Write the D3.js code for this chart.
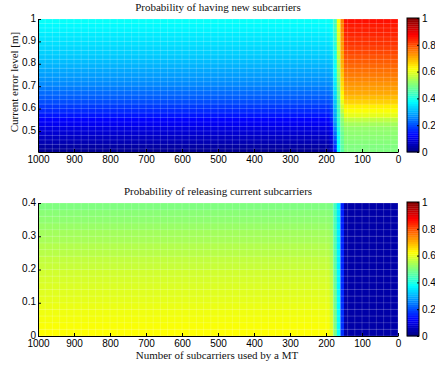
<!DOCTYPE html>
<html>
<head>
<meta charset="utf-8">
<script src="https://cdnjs.cloudflare.com/ajax/libs/d3/7.8.5/d3.min.js"></script>
<style>
    body { margin: 0; background: #fff; }
    .tick text { font-family: "Liberation Sans", Arial, sans-serif; font-size: 10px; fill: #000; }
    .lbl { font-family: "Liberation Serif", "Times New Roman", serif; font-size: 11px; fill: #111; }
</style>
</head>
<body>
<div id="chart"></div>
<script>
"use strict";

// column boundaries (number of subcarriers), shared by both panels
var xEdges = [1000, 190, 180, 170, 160, 150, 0];
var xTicks = [1000, 900, 800, 700, 600, 500, 400, 300, 200, 100, 0];
var topYTicks = [0.5, 0.6, 0.7, 0.8, 0.9, 1];
var bottomYTicks = [0, 0.1, 0.2, 0.3, 0.4];
var colorbarTicks = [0, 0.2, 0.4, 0.6, 0.8, 1];

// top panel: rows of 0.02 from 0.40 to 1.00, one array per column band
var topRowEdges = d3.range(0.40, 1.0001, 0.02);
var topLeft  = [0.02, 0.035, 0.05, 0.065, 0.08, 0.095, 0.11, 0.125, 0.145, 0.165, 0.18, 0.20, 0.215, 0.23, 0.245, 0.26, 0.27, 0.28, 0.29, 0.30, 0.31, 0.32, 0.33, 0.335, 0.345, 0.35, 0.355, 0.365, 0.37, 0.38];
var topBand1 = [0.05, 0.065, 0.08, 0.095, 0.11, 0.125, 0.14, 0.155, 0.17, 0.185, 0.20, 0.215, 0.23, 0.245, 0.26, 0.27, 0.28, 0.29, 0.30, 0.31, 0.32, 0.33, 0.34, 0.345, 0.355, 0.36, 0.365, 0.375, 0.38, 0.39];
var topBand2 = [0.15, 0.17, 0.19, 0.21, 0.23, 0.25, 0.265, 0.28, 0.29, 0.30, 0.31, 0.32, 0.33, 0.34, 0.35, 0.355, 0.36, 0.37, 0.375, 0.38, 0.385, 0.39, 0.395, 0.40, 0.41, 0.415, 0.42, 0.43, 0.435, 0.44];
var topBand3 = [0.37, 0.375, 0.38, 0.385, 0.39, 0.40, 0.41, 0.42, 0.43, 0.44, 0.45, 0.46, 0.47, 0.48, 0.49, 0.50, 0.51, 0.52, 0.53, 0.54, 0.55, 0.56, 0.57, 0.575, 0.58, 0.59, 0.595, 0.60, 0.61, 0.62];
var topBand4 = [0.46, 0.465, 0.47, 0.475, 0.48, 0.49, 0.50, 0.51, 0.53, 0.56, 0.58, 0.60, 0.62, 0.635, 0.65, 0.66, 0.67, 0.68, 0.69, 0.70, 0.705, 0.71, 0.715, 0.72, 0.725, 0.73, 0.735, 0.74, 0.745, 0.75];
var topRight = [0.50, 0.50, 0.505, 0.51, 0.515, 0.52, 0.535, 0.56, 0.60, 0.62, 0.64, 0.67, 0.69, 0.71, 0.72, 0.73, 0.745, 0.755, 0.765, 0.775, 0.785, 0.795, 0.805, 0.815, 0.825, 0.83, 0.84, 0.845, 0.85, 0.86];

// bottom panel: rows of 0.02 from 0 to 0.40
var bottomRowEdges = d3.range(0, 0.4001, 0.02);
var bottomLeft  = [0.625, 0.62, 0.615, 0.61, 0.605, 0.60, 0.595, 0.59, 0.585, 0.58, 0.57, 0.565, 0.555, 0.55, 0.54, 0.535, 0.525, 0.515, 0.51, 0.50];
var bottomBand1 = [0.60, 0.595, 0.59, 0.585, 0.58, 0.575, 0.57, 0.565, 0.56, 0.555, 0.55, 0.545, 0.54, 0.535, 0.53, 0.525, 0.515, 0.51, 0.505, 0.495];
var bottomBand2 = [0.50, 0.50, 0.495, 0.49, 0.49, 0.485, 0.48, 0.48, 0.475, 0.47, 0.47, 0.465, 0.46, 0.46, 0.455, 0.45, 0.45, 0.445, 0.44, 0.44];
var bottomBand3 = [0.38, 0.38, 0.38, 0.375, 0.375, 0.375, 0.37, 0.37, 0.37, 0.37, 0.365, 0.365, 0.365, 0.36, 0.36, 0.36, 0.36, 0.355, 0.355, 0.355];
var bottomBand4 = [0.17, 0.17, 0.17, 0.17, 0.17, 0.165, 0.165, 0.165, 0.165, 0.165, 0.16, 0.16, 0.16, 0.16, 0.16, 0.16, 0.155, 0.155, 0.155, 0.155];
var bottomRight = [0.04, 0.04, 0.04, 0.04, 0.04, 0.04, 0.04, 0.04, 0.04, 0.04, 0.04, 0.04, 0.04, 0.04, 0.04, 0.04, 0.04, 0.04, 0.04, 0.04];

// matlab "jet"
function jet(v) {
    var c = function(t) { return Math.max(0, Math.min(1, t)); };
    var r = c(1.5 - Math.abs(4 * v - 3)),
        g = c(1.5 - Math.abs(4 * v - 2)),
        b = c(1.5 - Math.abs(4 * v - 1));
    return d3.rgb(r * 255, g * 255, b * 255).toString();
}
var color = d3.scaleSequential(jet).domain([0, 1]);

var svg = d3.select('#chart')
    .append('svg')
    .attr('width', 435)
    .attr('height', 366);

function drawPanel(cfg) {
    var x = d3.scaleLinear().domain([1000, 0]).range([38, 398]);
    var y = d3.scaleLinear().domain(cfg.yDomain).range([cfg.bottom, cfg.top]);
    var g = svg.append('g');

    g.append('clipPath').attr('id', cfg.id)
        .append('rect')
        .attr('x', x(1000)).attr('y', cfg.top)
        .attr('width', x(0) - x(1000)).attr('height', cfg.bottom - cfg.top);

    var cells = [];
    cfg.columns.forEach(function(col, i) {
        col.forEach(function(v, j) {
            cells.push({ x0: xEdges[i], x1: xEdges[i + 1], y0: cfg.rows[j], y1: cfg.rows[j + 1], v: v });
        });
    });

    var plot = g.append('g').attr('clip-path', 'url(#' + cfg.id + ')');
    plot.selectAll('rect.cell')
        .data(cells)
        .enter()
        .append('rect')
        .attr('class', 'cell')
        .attr('x', function(d) { return x(d.x0); })
        .attr('width', function(d) { return x(d.x1) - x(d.x0) + 0.4; })
        .attr('y', function(d) { return y(d.y1); })
        .attr('height', function(d) { return y(d.y0) - y(d.y1) + 0.4; })
        .style('fill', function(d) { return color(d.v); });

    // faint mesh edges
    plot.selectAll('line.vm')
        .data(d3.range(0, 1001, 20))
        .enter().append('line')
        .attr('x1', function(d) { return x(d); }).attr('x2', function(d) { return x(d); })
        .attr('y1', cfg.top).attr('y2', cfg.bottom)
        .style('stroke', '#fff').style('stroke-opacity', 0.3).style('stroke-width', 0.6);
    plot.selectAll('line.hm')
        .data(cfg.rows)
        .enter().append('line')
        .attr('y1', function(d) { return y(d); }).attr('y2', function(d) { return y(d); })
        .attr('x1', x(1000)).attr('x2', x(0))
        .style('stroke', '#fff').style('stroke-opacity', 0.3).style('stroke-width', 0.6);

    var xAxis = g.append('g')
        .attr('transform', 'translate(0,' + cfg.bottom + ')')
        .call(d3.axisBottom(x).tickValues(xTicks).tickFormat(d3.format('d'))
            .tickSizeInner(-3).tickSizeOuter(0).tickPadding(4));
    xAxis.selectAll('.tick text').attr('dy', '0.71em');

    var yAxis = g.append('g')
        .attr('transform', 'translate(' + x(1000) + ',0)')
        .call(d3.axisLeft(y).tickValues(cfg.yTicks).tickFormat(d3.format('~g'))
            .tickSizeInner(-3).tickSizeOuter(0).tickPadding(2));
    yAxis.selectAll('.tick text').attr('dy', '0.22em');

    g.selectAll('.domain').style('stroke', '#000');
    g.selectAll('.tick line').style('stroke', '#000');

    g.append('text').attr('class', 'lbl')
        .attr('x', 218).attr('y', cfg.top - 8)
        .attr('text-anchor', 'middle')
        .text(cfg.title);

    // colorbar
    var cb = d3.scaleLinear().domain([0, 1]).range([cfg.bottom, cfg.top - 1]);
    var steps = d3.range(64);
    g.selectAll('rect.cb')
        .data(steps)
        .enter().append('rect')
        .attr('class', 'cb')
        .attr('x', 407).attr('width', 12)
        .attr('y', function(d) { return cb((d + 1) / 64); })
        .attr('height', function(d) { return cb(d / 64) - cb((d + 1) / 64) + 0.3; })
        .style('fill', function(d) { return color((d + 0.5) / 64); });
    g.append('rect')
        .attr('x', 407).attr('y', cb(1)).attr('width', 12).attr('height', cb(0) - cb(1))
        .style('fill', 'none').style('stroke', '#000').style('stroke-width', 1);
    g.append('g')
        .attr('transform', 'translate(419,0)')
        .call(d3.axisRight(cb).tickValues(colorbarTicks).tickFormat(d3.format('~g'))
            .tickSizeInner(-2).tickSizeOuter(0).tickPadding(3))
        .call(function(a) { a.select('.domain').remove(); })
        .selectAll('.tick line').style('stroke', '#000');
}

drawPanel({
    id: 'clipTop', top: 19, bottom: 152, yDomain: [0.406, 1], yTicks: topYTicks,
    rows: topRowEdges, columns: [topLeft, topBand1, topBand2, topBand3, topBand4, topRight],
    title: 'Probability of having new subcarriers'
});
drawPanel({
    id: 'clipBottom', top: 203, bottom: 336, yDomain: [0, 0.4], yTicks: bottomYTicks,
    rows: bottomRowEdges, columns: [bottomLeft, bottomBand1, bottomBand2, bottomBand3, bottomBand4, bottomRight],
    title: 'Probability of releasing current subcarriers'
});

svg.append('text').attr('class', 'lbl')
    .attr('x', 217).attr('y', 359)
    .attr('text-anchor', 'middle')
    .text('Number of subcarriers used by a MT');

svg.append('text').attr('class', 'lbl')
    .attr('transform', 'translate(18,82) rotate(-90)')
    .attr('text-anchor', 'middle')
    .text('Current error level [m]');
</script>
</body>
</html>
